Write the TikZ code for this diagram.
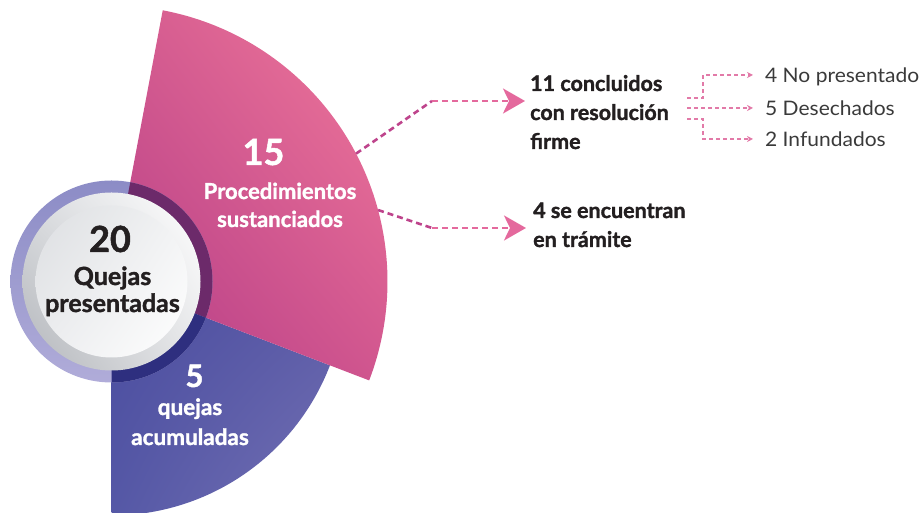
\documentclass[tikz,border=0pt]{standalone}
\usepackage{fontspec}
\setmainfont{Lato}[BoldFeatures={FakeBold=1.4}]
\newfontfamily\subfont{Lato}[FakeStretch=1.05]
\usepackage{xcolor}
\usetikzlibrary{arrows.meta,positioning,calc,shadings}

\definecolor{txtdark}{HTML}{231F20}
\definecolor{txtgrey}{HTML}{3A3A3A}
\definecolor{lineMag}{HTML}{BE448C}
\definecolor{linePink}{HTML}{E4699D}
\definecolor{linePale}{HTML}{E27AA8}
\definecolor{ringTop}{HTML}{8C8CC6}
\definecolor{ringBot}{HTML}{B0ACD9}
\definecolor{ringPur}{HTML}{6C2A6A}
\definecolor{ringNav}{HTML}{2E2F7F}
\definecolor{bluUL}{HTML}{4A4C9F}
\definecolor{bluUR}{HTML}{5A5AA6}
\definecolor{bluLL}{HTML}{5558A6}
\definecolor{bluLR}{HTML}{7471B4}
\definecolor{pnkUL}{HTML}{D35A8F}
\definecolor{pnkUR}{HTML}{F27A9C}
\definecolor{pnkLL}{HTML}{B23A86}
\definecolor{pnkLR}{HTML}{D2578F}
\definecolor{silA}{HTML}{DADCDF}
\definecolor{silB}{HTML}{B2B5BA}
\definecolor{silC}{HTML}{E6E7E9}
\definecolor{silD}{HTML}{DCDEE1}
\definecolor{silE}{HTML}{F2F3F4}
\definecolor{silF}{HTML}{ECEDEF}

\begin{document}
\begin{tikzpicture}[x=1pt,y=1pt,
   big/.style={font=\fontsize{36}{36}\selectfont\bfseries,inner sep=0pt,anchor=base},
   lab/.style={font=\fontsize{22}{28}\selectfont\bfseries,inner sep=0pt,align=center,anchor=base},
   res/.style={font=\fontsize{21.5}{29}\selectfont\bfseries,text=txtdark,inner sep=0pt,align=left,anchor=base west},
   sub/.style={font=\subfont\fontsize{20}{20}\selectfont,text=txtgrey,inner sep=0pt,text height=14.3pt,text depth=0pt,anchor=west},
   arrline/.style={line width=2.6pt,dash pattern=on 6pt off 4pt},
   subline/.style={line width=1.3pt,dash pattern=on 4pt off 3pt,draw=linePale}]
  \useasboundingbox (0,0) rectangle (924,513);
  \coordinate (c) at (111.5,231.5);
  % wedges
  \shade[upper left=bluUL,upper right=bluUR,lower left=bluLL,lower right=bluLR]
    (c) -- ++(-21:234) arc[start angle=-21,end angle=-90,radius=234] -- cycle;
  \shade[upper left=pnkUL,upper right=pnkUR,lower left=pnkLL,lower right=pnkLR]
    (c) -- ++(79.3:276) arc[start angle=79.3,end angle=-21,radius=276] -- cycle;
  % ring
  \shade[top color=ringTop,bottom color=ringBot] (c) circle[radius=101];
  \begin{scope}
    \clip (c) -- ++(79.3:276) arc[start angle=79.3,end angle=-21,radius=276] -- cycle;
    \fill[ringPur] (c) circle[radius=101];
  \end{scope}
  \begin{scope}
    \clip (c) -- ++(-21:234) arc[start angle=-21,end angle=-90,radius=234] -- cycle;
    \fill[ringNav] (c) circle[radius=101];
  \end{scope}
  \shade[upper left=silA,upper right=white,lower left=silB,lower right=silC] (c) circle[radius=89];
  \shade[upper left=silD,upper right=silE,lower left=silF,lower right=white] (c) circle[radius=76];
  % labels
  \node[big,text=txtdark] (n20) at (110,261) {20};
  \node[lab,text=txtdark,font=\fontsize{25}{27}\selectfont\bfseries] (nQue) at (112.5,201) {Quejas\\presentadas};
  \node[big,text=white] (n15) at (263.5,348) {15};
  \node[lab,text=white] (nProc) at (280,286) {Procedimientos\\sustanciados};
  \node[big,text=white,font=\fontsize{31}{31}\selectfont\bfseries] (n5) at (194.5,126) {5};
  \node[lab,text=white,font=\fontsize{22.5}{30}\selectfont\bfseries] (nAcu) at (190,68) {quejas\\acumuladas};
  \node[res] (n11) at (530,364) {11 concluidos\\con resolución\\firme};
  \node[res] (n4) at (533,266) {4 se encuentran\\en trámite};
  \node[sub] (nNo) at (765,438) {4 No presentado};
  \node[sub] (nDes) at (765,405) {5 Desechados};
  \node[sub] (nInf) at (765,374) {2 Infundados};
  % arrows
  \coordinate (p1) at ($(c)+(27.6:276)$);
  \coordinate (b1) at (432,412);
  \coordinate (p2) at ($(c)+(15:276)$);
  \coordinate (b2) at (432,285);
  \draw[arrline,lineMag] (p1) -- (b1);
  \draw[arrline,linePink,-{Stealth[length=22pt,width=25pt,inset=6pt]},shorten >=5pt] (b1) -- (b1 -| n11.west);
  \draw[arrline,lineMag] (p2) -- (b2);
  \draw[arrline,linePink,-{Stealth[length=22pt,width=25pt,inset=6pt]},shorten >=7pt] (b2) -- (b2 -| n4.west);
  \draw[subline,-{Stealth[length=6pt,width=6pt]},shorten >=12pt] (687,415) -- (703,415) -- (703,438) -- (nNo.west);
  \draw[subline,-{Stealth[length=6pt,width=6pt]},shorten >=12pt] (687,405) -- (nDes.west);
  \draw[subline,-{Stealth[length=6pt,width=6pt]},shorten >=12pt] (687,394) -- (703,394) -- (703,374) -- (nInf.west);
\end{tikzpicture}
\end{document}
